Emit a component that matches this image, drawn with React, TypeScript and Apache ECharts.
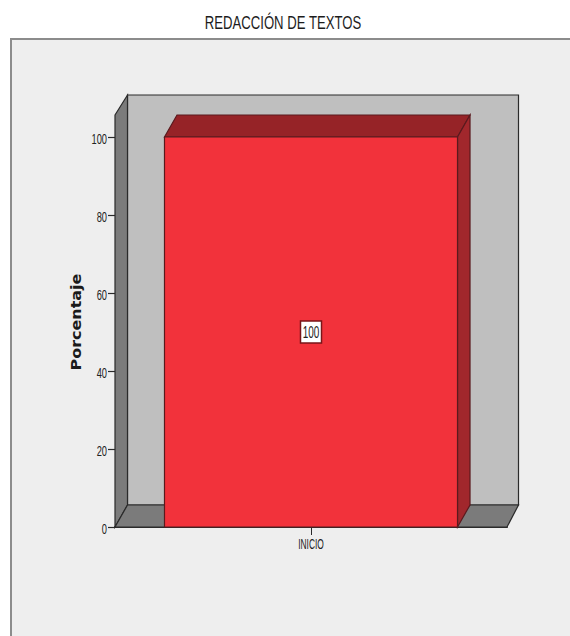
import React, { useEffect, useRef } from "react";
import * as echarts from "echarts";

const categories = ["INICIO"];
const percentages = [100];
const yTicks = [0, 20, 40, 60, 80, 100];
const chartTitle = "REDACCIÓN DE TEXTOS";
const yAxisName = "Porcentaje";

const DEPTH_X = 12.5;
const DEPTH_Y = 22;
const WALL_TOP_RISE = 20;
const EDGE = "#2a2a2a";
const BAR_EDGE = "#5a1a1e";
const TEXT = "#222222";
const NARROW = 0.62;

function poly(points: number[][], fill: string, stroke: string) {
  return {
    type: "polygon",
    shape: { points },
    style: { fill, stroke, lineWidth: 1.2 },
  };
}

// Condensed label: Liberation Sans squeezed horizontally around its anchor
function narrowText(x: number, y: number, text: string, align: string, fontSize: number, scaleX = NARROW) {
  return {
    type: "text",
    x,
    y,
    scaleX,
    style: {
      text,
      align,
      verticalAlign: "middle",
      fontFamily: "Liberation Sans",
      fontSize,
      fill: TEXT,
    },
  };
}

// Back wall, side wall and floor of the pseudo-3D plot box
function renderBox(params: any) {
  const { x, y, width, height } = params.coordSys;
  const r = x + width;
  const b = y + height;
  const dx = DEPTH_X;
  const dy = DEPTH_Y;
  const top = y - WALL_TOP_RISE;
  return {
    type: "group",
    children: [
      poly([[x + dx, top], [r + dx - 1, top], [r + dx - 1, b - dy], [x + dx, b - dy]], "#bfbfbf", EDGE),
      poly([[x, y], [x + dx, top], [x + dx, b - dy], [x, b]], "#7b7b7b", EDGE),
      poly([[x, b], [x + dx, b - dy], [r + dx - 1, b - dy], [r, b]], "#7b7b7b", EDGE),
    ],
  };
}

// Extruded bar: front face, top face, right side and the value tag at mid-height
function renderBar(_params: any, api: any) {
  const value = api.value(1);
  const base = api.coord([api.value(0), 0]);
  const top = api.coord([api.value(0), value]);
  const mid = api.coord([api.value(0), value / 2]);
  const w = api.size([1, 0])[0] * 0.7475;
  const l = base[0] - w / 2;
  const r = base[0] + w / 2;
  const dx = DEPTH_X;
  const dy = DEPTH_Y;
  return {
    type: "group",
    children: [
      poly([[l, top[1]], [l + dx, top[1] - dy], [r + dx, top[1] - dy], [r, top[1]]], "#962327", BAR_EDGE),
      poly([[r, top[1]], [r + dx, top[1] - dy], [r + dx, base[1] - dy], [r, base[1]]], "#a1272c", BAR_EDGE),
      poly([[l, top[1]], [r, top[1]], [r, base[1]], [l, base[1]]], "#f2323b", BAR_EDGE),
      {
        type: "rect",
        shape: { x: mid[0] - 10.5, y: mid[1] - 11, width: 21, height: 22 },
        style: { fill: "#ffffff", stroke: "#7a1518", lineWidth: 1.5 },
      },
      narrowText(mid[0], mid[1] + 0.5, String(value), "center", 16),
    ],
  };
}

// Tick labels of the value axis, placed through the axis scale
function renderYLabel(params: any, api: any) {
  const pos = api.coord([0, api.value(1)]);
  return narrowText(params.coordSys.x - 8, pos[1] + 2, String(api.value(1)), "right", 15);
}

// Category label under each tick
function renderXLabel(params: any, api: any) {
  const pos = api.coord([api.value(0), 0]);
  return narrowText(pos[0], pos[1] + 17, categories[params.dataIndex], "center", 14, 0.6);
}

export default function App() {
  const ref = useRef<HTMLDivElement>(null);

  useEffect(() => {
    const chart = echarts.init(ref.current!, null, { renderer: "svg" });
    chart.setOption({
      animation: false,
      backgroundColor: "#ffffff",
      graphic: [
        {
          type: "rect",
          z: -1,
          silent: true,
          shape: { x: 11, y: 39, width: 570, height: 610 },
          style: { fill: "#eeeeee", stroke: "#8c8c8c", lineWidth: 2 },
        },
        {
          type: "text",
          x: 283,
          y: 23,
          scaleX: 0.73,
          style: {
            text: chartTitle,
            align: "center",
            verticalAlign: "middle",
            fontFamily: "Liberation Sans",
            fontSize: 18,
            fill: "#1c1c1c",
          },
        },
        {
          type: "text",
          x: 76,
          y: 322,
          rotation: Math.PI / 2,
          scaleX: 1.14,
          style: {
            text: yAxisName,
            align: "center",
            verticalAlign: "middle",
            fontFamily: "DejaVu Sans",
            fontWeight: "bold",
            fontSize: 14,
            fill: "#1a1a1a",
          },
        },
      ],
      grid: { left: 115, right: 63, top: 115, bottom: 109 },
      xAxis: {
        type: "category",
        data: categories,
        boundaryGap: true,
        axisLine: { show: true, lineStyle: { color: EDGE, width: 2 } },
        axisTick: { show: true, alignWithLabel: true, length: 8, lineStyle: { color: EDGE } },
        axisLabel: { show: false },
      },
      yAxis: {
        type: "value",
        min: 0,
        max: 105.64,
        interval: 20,
        splitLine: { show: false },
        axisLine: { show: false },
        axisTick: {
          show: true,
          customValues: yTicks,
          length: 7,
          lineStyle: { color: EDGE, width: 1.2 },
        },
        axisLabel: { show: false },
      },
      series: [
        {
          type: "custom",
          renderItem: renderBox,
          data: [[0, 0]],
          silent: true,
          z: 1,
        },
        {
          type: "custom",
          renderItem: renderBar,
          encode: { x: 0, y: 1 },
          data: categories.map((_, i) => [i, percentages[i]]),
          z: 2,
        },
        {
          type: "custom",
          renderItem: renderYLabel,
          encode: { x: 0, y: 1 },
          data: yTicks.map((t) => [0, t]),
          silent: true,
          z: 3,
        },
        {
          type: "custom",
          renderItem: renderXLabel,
          encode: { x: 0, y: 1 },
          data: categories.map((_, i) => [i, 0]),
          silent: true,
          z: 3,
        },
      ],
    });
    return () => chart.dispose();
  }, []);

  return <div ref={ref} style={{ position: "fixed", left: 0, top: 0, width: 570, height: 636 }} />;
}
